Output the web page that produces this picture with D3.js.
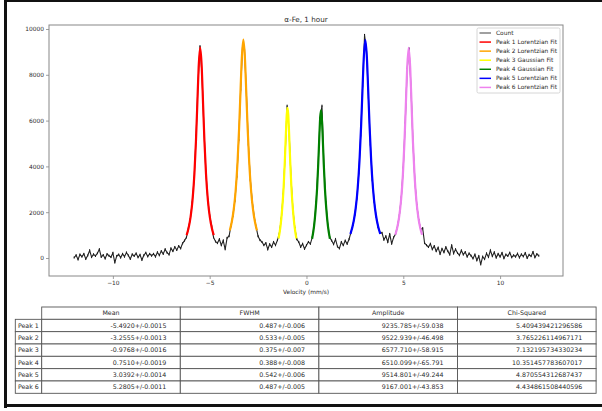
<!DOCTYPE html>
<html>
<head>
<meta charset="utf-8">
<script src="https://cdn.jsdelivr.net/npm/d3@7"></script>
<style>
  body { margin: 0; background: #fff; }
  svg { display: block; font-family: "DejaVu Sans", sans-serif; }
</style>
</head>
<body>
<svg id="chart" width="602" height="411"></svg>
<script>
// --- data ---
const velocity = [
  -12.0,-11.9,-11.8,-11.7,-11.6,-11.5,-11.4,-11.3,-11.2,-11.1,-11.0,-10.9,-10.8,-10.7,-10.6,-10.5,-10.4,-10.3,-10.2,-10.1,
  -10.0,-9.9,-9.8,-9.7,-9.6,-9.5,-9.4,-9.3,-9.2,-9.1,-9.0,-8.9,-8.8,-8.7,-8.6,-8.5,-8.4,-8.3,-8.2,-8.1,
  -8.0,-7.9,-7.8,-7.7,-7.6,-7.5,-7.4,-7.3,-7.2,-7.1,-7.0,-6.9,-6.8,-6.7,-6.6,-6.5,-6.4,-6.3,-6.2,-6.1,
  -6.0,-5.9,-5.8,-5.7,-5.6,-5.5,-5.4,-5.3,-5.2,-5.1,-5.0,-4.9,-4.8,-4.7,-4.6,-4.5,-4.4,-4.3,-4.2,-4.1,
  -4.0,-3.9,-3.8,-3.7,-3.6,-3.5,-3.4,-3.3,-3.2,-3.1,-3.0,-2.9,-2.8,-2.7,-2.6,-2.5,-2.4,-2.3,-2.2,-2.1,
  -2.0,-1.9,-1.8,-1.7,-1.6,-1.5,-1.4,-1.3,-1.2,-1.1,-1.0,-0.9,-0.8,-0.7,-0.6,-0.5,-0.4,-0.3,-0.2,-0.1,
  0.0,0.1,0.2,0.3,0.4,0.5,0.6,0.7,0.8,0.9,1.0,1.1,1.2,1.3,1.4,1.5,1.6,1.7,1.8,1.9,
  2.0,2.1,2.2,2.3,2.4,2.5,2.6,2.7,2.8,2.9,3.0,3.1,3.2,3.3,3.4,3.5,3.6,3.7,3.8,3.9,
  4.0,4.1,4.2,4.3,4.4,4.5,4.6,4.7,4.8,4.9,5.0,5.1,5.2,5.3,5.4,5.5,5.6,5.7,5.8,5.9,
  6.0,6.1,6.2,6.3,6.4,6.5,6.6,6.7,6.8,6.9,7.0,7.1,7.2,7.3,7.4,7.5,7.6,7.7,7.8,7.9,
  8.0,8.1,8.2,8.3,8.4,8.5,8.6,8.7,8.8,8.9,9.0,9.1,9.2,9.3,9.4,9.5,9.6,9.7,9.8,9.9,
  10.0,10.1,10.2,10.3,10.4,10.5,10.6,10.7,10.8,10.9,11.0,11.1,11.2,11.3,11.4,11.5,11.6,11.7,11.8,11.9,
  12.0
];
const counts = [
  20,120,-60,150,60,180,-40,110,330,40,160,90,210,380,50,130,-20,170,100,40,
  220,-200,90,150,20,180,60,240,110,-40,160,90,200,30,140,-80,120,230,70,180,
  100,180,60,250,120,300,180,380,230,150,420,300,480,350,520,420,640,760,900,1300,
  1700,2450,3500,5350,7700,9250,8050,5700,3800,2550,1850,1400,900,720,650,820,560,760,380,880,
  950,1400,1850,2500,3550,5150,7350,9300,9100,7100,4950,3400,2450,1800,1350,950,780,700,560,650,
  380,600,480,700,560,780,1080,1720,2800,4550,6650,5550,3500,2100,1300,820,700,480,620,400,
  560,700,620,900,1450,2450,4000,6100,6650,4000,2450,1450,900,760,600,820,500,420,700,560,
  760,620,820,1130,1450,1900,2600,3700,5350,7500,9740,9050,7000,4950,3400,2450,1800,1350,1100,1100,
  800,950,700,1050,620,900,1050,1370,1870,2650,3950,5900,8250,9150,7400,5050,3350,2300,1650,1250,
  1300,650,560,480,620,380,520,300,450,180,400,250,470,300,150,560,200,380,220,120,
  330,150,260,60,200,100,-20,150,-100,80,-280,60,-50,200,40,330,80,250,20,180,
  60,220,-10,150,90,230,30,120,60,190,20,160,70,220,0,140,80,260,30,170,
  100
];
const countErr = 45;

// fitted curves, [velocity, count]
const peak1Fit = [[-6.19,997],[-6.09,1306],[-5.99,1771],[-5.89,2497],[-5.79,3668],[-5.71,5086],[-5.64,6695],[-5.57,8336],[-5.49,9190],
  [-5.41,8336],[-5.34,6695],[-5.27,5086],[-5.19,3668],[-5.09,2497],[-4.99,1771],[-4.89,1306],[-4.79,997]];
const peak2Fit = [[-3.96,1206],[-3.86,1569],[-3.76,2107],[-3.66,2927],[-3.56,4201],[-3.48,5663],[-3.41,7232],[-3.34,8736],[-3.26,9540],
  [-3.18,8736],[-3.11,7232],[-3.04,5663],[-2.96,4201],[-2.86,2927],[-2.76,2107],[-2.66,1569],[-2.56,1206]];
const peak3Fit = [[-1.44,850],[-1.34,1400],[-1.26,2100],[-1.18,3100],[-1.12,4200],[-1.06,5500],[-1.02,6250],[-0.98,6560],
  [-0.94,6250],[-0.90,5500],[-0.84,4200],[-0.78,3100],[-0.70,2100],[-0.62,1400],[-0.52,850]];
const peak4Fit = [[0.29,840],[0.39,1380],[0.47,2080],[0.55,3070],[0.61,4150],[0.67,5450],[0.71,6150],[0.75,6450],
  [0.79,6150],[0.83,5450],[0.89,4150],[0.95,3070],[1.03,2080],[1.11,1380],[1.21,840]];
const peak5Fit = [[2.27,1049],[2.44,1613],[2.54,2162],[2.64,2992],[2.74,4276],[2.82,5735],[2.89,7285],[2.96,8753],[3.04,9520],
  [3.12,8753],[3.19,7285],[3.26,5735],[3.34,4276],[3.44,2992],[3.54,2162],[3.64,1613],[3.81,1049]];
const peak6Fit = [[4.59,1015],[4.68,1297],[4.78,1757],[4.88,2478],[4.98,3641],[5.06,5048],[5.13,6645],[5.20,8273],[5.28,9180],
  [5.36,8273],[5.43,6645],[5.50,5048],[5.58,3641],[5.68,2478],[5.78,1757],[5.88,1297],[5.97,1015]];

const legendLabels = ["Count", "Peak 1 Lorentzian Fit", "Peak 2 Lorentzian Fit", "Peak 3 Gaussian Fit",
  "Peak 4 Gaussian Fit", "Peak 5 Lorentzian Fit", "Peak 6 Lorentzian Fit"];
const fitColors = ["red", "orange", "yellow", "green", "blue", "violet"];

const xTicks = [-10, -5, 0, 5, 10];
const yTicks = [0, 2000, 4000, 6000, 8000, 10000];

const tableColumns = ["Mean", "FWHM", "Amplitude", "Chi-Squared"];
const rowLabels = ["Peak 1", "Peak 2", "Peak 3", "Peak 4", "Peak 5", "Peak 6"];
const meanValues = ["-5.4920+/-0.0015", "-3.2555+/-0.0013", "-0.9768+/-0.0016", "0.7510+/-0.0019", "3.0392+/-0.0014", "5.2805+/-0.0011"];
const fwhmValues = ["0.487+/-0.006", "0.533+/-0.005", "0.375+/-0.007", "0.388+/-0.008", "0.542+/-0.006", "0.487+/-0.005"];
const amplitudeValues = ["9235.785+/-59.038", "9522.939+/-46.498", "6577.710+/-58.915", "6510.099+/-65.791", "9514.801+/-49.244", "9167.001+/-43.853"];
const chiSquaredValues = ["5.409439421296586", "3.765226114967171", "7.132195734330234", "10.351457783607017", "4.870554312687437", "4.434861508440596"];

// --- drawing ---
const svg = d3.select("#chart");
const textColor = "#2a2a2a";
const spineColor = "#888";

// outer black frame (screenshot border)
svg.append("rect").attr("x", 4).attr("y", 0).attr("width", 602).attr("height", 2).attr("fill", "#111");
svg.append("rect").attr("x", 4).attr("y", 0).attr("width", 3).attr("height", 408).attr("fill", "#111");
svg.append("rect").attr("x", 4).attr("y", 404).attr("width", 602).attr("height", 3).attr("fill", "#111");

let plot = {left: 49, right: 563, top: 25, bottom: 276};

let x = d3.scaleLinear().domain([-13.3, 13.25]).range([plot.left, plot.right]);
let y = d3.scaleLinear().domain([-786, 10175]).range([plot.bottom, plot.top]);

let g = svg.append("g");

// clip for the plotting area
svg.append("defs").append("clipPath").attr("id", "clip")
    .append("rect")
    .attr("x", plot.left).attr("y", plot.top)
    .attr("width", plot.right - plot.left).attr("height", plot.bottom - plot.top);

let marks = g.append("g").attr("clip-path", "url(#clip)");

let countData = velocity.map((v, i) => [v, counts[i]]);

// error bars
marks.append("g")
    .selectAll("line")
    .data(countData)
    .enter().append("line")
    .attr("x1", d => x(d[0])).attr("x2", d => x(d[0]))
    .attr("y1", d => y(d[1] - countErr)).attr("y2", d => y(d[1] + countErr))
    .attr("stroke", "#000")
    .attr("stroke-width", 1);

let line = d3.line().x(d => x(d[0])).y(d => y(d[1]));

marks.append("path")
    .datum(countData)
    .attr("d", line)
    .attr("fill", "none")
    .attr("stroke", "#222")
    .attr("stroke-width", 1.1);

let fitLine = d3.line().x(d => x(d[0])).y(d => y(d[1])).curve(d3.curveMonotoneX);
let fits = [peak1Fit, peak2Fit, peak3Fit, peak4Fit, peak5Fit, peak6Fit];

marks.append("g")
    .selectAll("path")
    .data(fits)
    .enter().append("path")
    .attr("d", fitLine)
    .attr("fill", "none")
    .attr("stroke", (d, i) => fitColors[i])
    .attr("stroke-width", 2.2)
    .attr("stroke-linejoin", "round");

// axes
let xAxis = g.append("g")
    .attr("transform", `translate(0,${plot.bottom})`)
    .call(d3.axisBottom(x).tickValues(xTicks).tickSize(3).tickPadding(2)
        .tickFormat(d => d < 0 ? "\u2212" + Math.abs(d) : d));
let yAxis = g.append("g")
    .attr("transform", `translate(${plot.left},0)`)
    .call(d3.axisLeft(y).tickValues(yTicks).tickSize(3).tickPadding(2).tickFormat(d3.format("d")));

[xAxis, yAxis].forEach(a => {
    a.select(".domain").remove();
    a.selectAll(".tick line").attr("stroke", spineColor).attr("stroke-width", 0.8);
    a.selectAll(".tick text").attr("fill", textColor).style("font-size", "5.9px")
        .style("font-family", "DejaVu Sans");
});

g.append("rect")
    .attr("x", plot.left).attr("y", plot.top)
    .attr("width", plot.right - plot.left).attr("height", plot.bottom - plot.top)
    .attr("fill", "none")
    .attr("stroke", spineColor)
    .attr("stroke-width", 1);

// title & label
g.append("text")
    .attr("x", (plot.left + plot.right) / 2).attr("y", 21.5)
    .attr("text-anchor", "middle")
    .attr("fill", textColor)
    .style("font-size", "7.2px")
    .text("\u03b1-Fe, 1 hour");

g.append("text")
    .attr("x", (plot.left + plot.right) / 2).attr("y", 293.5)
    .attr("text-anchor", "middle")
    .attr("fill", textColor)
    .style("font-size", "5.9px")
    .text("Velocity (mm/s)");

// legend
let legend = g.append("g").attr("transform", "translate(477,28)");
legend.append("rect")
    .attr("width", 83).attr("height", 65)
    .attr("rx", 1.5)
    .attr("fill", "#fff")
    .attr("stroke", "#ccc")
    .attr("stroke-width", 0.8);

let items = legend.selectAll(".item")
    .data(legendLabels)
    .enter().append("g")
    .attr("class", "item")
    .attr("transform", (d, i) => `translate(0,${5 + i * 9.07})`);

items.append("line")
    .attr("x1", 2.5).attr("x2", 14)
    .attr("stroke", (d, i) => i === 0 ? "#808080" : fitColors[i - 1])
    .attr("stroke-width", 1.5);

items.append("text")
    .attr("x", 19).attr("y", 2)
    .attr("fill", textColor)
    .style("font-size", "5.9px")
    .text(d => d);

// table
let table = {left: 15.3, labelW: 26.4, colW: 138.6, top: 307, rowH: 12.33};
let columnsData = [meanValues, fwhmValues, amplitudeValues, chiSquaredValues];
let tg = svg.append("g").style("font-size", "6.3px");

function cell(cx, cy, w) {
    tg.append("rect")
        .attr("x", cx).attr("y", cy)
        .attr("width", w).attr("height", table.rowH)
        .attr("fill", "#fff").attr("stroke", "#555").attr("stroke-width", 0.9);
}

// header cells
tableColumns.forEach((c, j) => {
    let cx = table.left + table.labelW + j * table.colW;
    cell(cx, table.top, table.colW);
    tg.append("text")
        .attr("x", cx + table.colW / 2).attr("y", table.top + table.rowH / 2 + 2.2)
        .attr("text-anchor", "middle")
        .attr("fill", textColor)
        .text(c);
});

rowLabels.forEach((r, i) => {
    let ry = table.top + (i + 1) * table.rowH;
    cell(table.left, ry, table.labelW);
    tg.append("text")
        .attr("x", table.left + 2.6).attr("y", ry + table.rowH / 2 + 2.2)
        .attr("fill", textColor)
        .text(r);
    columnsData.forEach((col, j) => {
        let cx = table.left + table.labelW + j * table.colW;
        cell(cx, ry, table.colW);
        tg.append("text")
            .attr("x", cx + table.colW - 13.9).attr("y", ry + table.rowH / 2 + 2.2)
            .attr("text-anchor", "end")
            .attr("fill", textColor)
            .text(col[i]);
    });
});
</script>
</body>
</html>
